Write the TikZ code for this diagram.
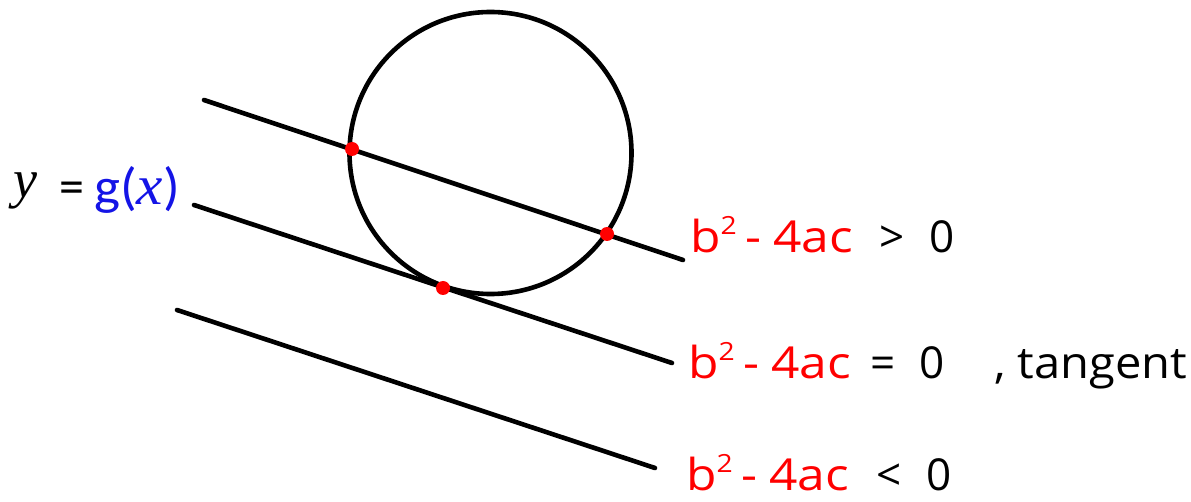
\documentclass[tikz,border=0pt]{standalone}
\usepackage{fontspec}
\setmainfont{Open Sans}
\newfontfamily\calib{Carlito}
\newfontfamily\serifit{Liberation Serif}[ItalicFont={* Italic}]
\definecolor{dotred}{RGB}{255,0,0}
\definecolor{gblue}{RGB}{20,20,230}
\begin{document}
\begin{tikzpicture}[x=1pt,y=-1pt,
  geo/.style={line width=4.6pt,line cap=round,black},
  pt/.style={fill=dotred},
  lab/.style={anchor=base west,inner sep=0pt,font=\fontsize{44}{44}\selectfont},
  eqn/.style={lab,text=dotred}]
\useasboundingbox (0,0) rectangle (1191,502);
% circle
\coordinate (O) at (490.5,153);
\draw[geo] (O) circle[radius=141];
% lines
\coordinate (a1) at (204,100); \coordinate (a2) at (683,260);
\coordinate (b1) at (194,205); \coordinate (b2) at (672,363);
\coordinate (c1) at (177,310); \coordinate (c2) at (655,468);
\draw[geo] (a1) -- (a2);
\draw[geo] (b1) -- (b2);
\draw[geo] (c1) -- (c2);
% intersection points
\coordinate (p1) at (352,149);
\coordinate (p2) at (607,234);
\coordinate (p3) at (443,288);
\fill[pt] (p1) circle[radius=7];
\fill[pt] (p2) circle[radius=7];
\fill[pt] (p3) circle[radius=7];
% y = g(x)
\node[anchor=base west,inner sep=0pt,font=\fontsize{54}{54}\selectfont\serifit\itshape] (yv) at (13,198) {y};
\node[anchor=base west,inner sep=0pt,font=\fontsize{50}{50}\selectfont\calib] (eq) at (59,204) {=};
\node[anchor=base west,inner sep=0pt,font=\fontsize{52}{52}\selectfont\calib,text=gblue] (gx) at (94,205) {\scalebox{1.06}[1]{g({\serifit\itshape\fontsize{56}{56}\selectfont x})}};
% labels
\newcommand{\bfac}{\scalebox{1.13}[1]{b\raisebox{18pt}{\fontsize{25}{25}\selectfont 2}\hspace{8pt}-\hspace{10pt}4ac}}
\node[eqn] (e1) at (690,253) {\bfac};
\node[lab] (r1) at (879,253) {>};
\node[lab] (z1) at (929,253) {0};
\node[eqn] (e2) at (688,378) {\bfac};
\node[lab] (r2) at (870,378) {=};
\node[lab] (z2) at (919,378) {0};
\node[lab] (t2) at (994,378) {\scalebox{1.07}[1]{, tangent}};
\node[eqn] (e3) at (686,490) {\bfac};
\node[lab] (r3) at (876,490) {<};
\node[lab] (z3) at (926,490) {0};
\end{tikzpicture}
\end{document}
